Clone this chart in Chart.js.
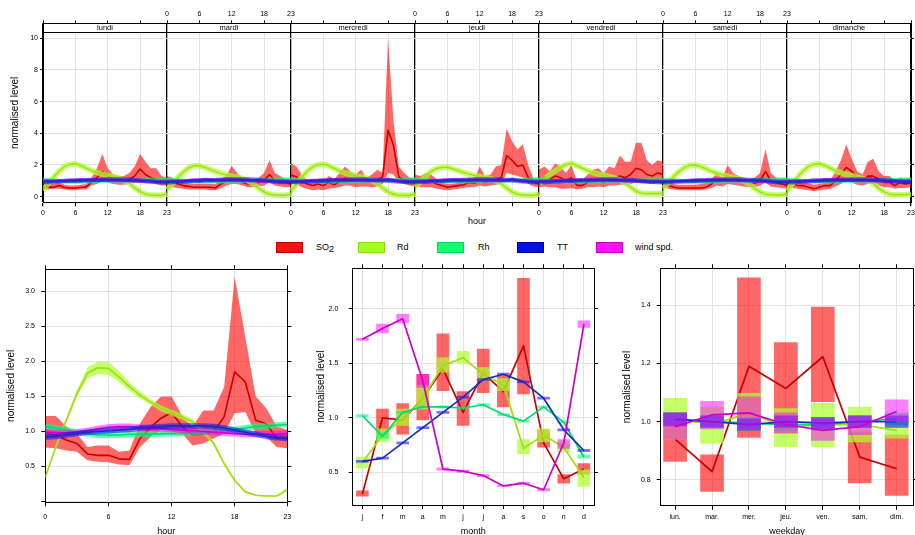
<!DOCTYPE html>
<html>
<head>
<meta charset="utf-8">
<script src="https://cdn.jsdelivr.net/npm/chart.js@4.4.1/dist/chart.umd.min.js"></script>
<style>
html,body{margin:0;padding:0;background:#fff;width:915px;height:535px;overflow:hidden;position:relative;font-family:"Liberation Sans",Arial,sans-serif;}
canvas{position:absolute;}
.bx{position:absolute;top:242px;width:27px;height:11px;box-sizing:border-box;border:1px solid;}
.lt{position:absolute;top:241px;font-size:9px;line-height:12px;color:#000;white-space:nowrap;}
.lt sub{font-size:9px;vertical-align:baseline;position:relative;top:2px;}
</style>
</head>
<body>
<canvas id="cTop" width="915" height="228" style="left:0;top:0"></canvas>
<canvas id="cHour" width="305" height="282" style="left:0;top:258px"></canvas>
<canvas id="cMonth" width="305" height="282" style="left:305px;top:258px"></canvas>
<canvas id="cWeek" width="305" height="282" style="left:610px;top:258px"></canvas>

<div class="bx" style="left:276px;background:#ff1010;border-color:#c00000"></div><div class="lt" style="left:316px">SO<sub>2</sub></div>
<div class="bx" style="left:358px;background:#a4ff22;border-color:#88dd10"></div><div class="lt" style="left:397px">Rd</div>
<div class="bx" style="left:437px;background:#10ff70;border-color:#00d860"></div><div class="lt" style="left:478px">Rh</div>
<div class="bx" style="left:517px;background:#0010e8;border-color:#0000a0"></div><div class="lt" style="left:557px">TT</div>
<div class="bx" style="left:596px;background:#ff10ff;border-color:#c000c0"></div><div class="lt" style="left:635px">wind spd.</div>

<script>
// ---------------- DATA ----------------
const dayNames = ['lundi','mardi','mercredi','jeudi','vendredi','samedi','dimanche'];
const hourTicks = [0, 6, 12, 18, 23];
const topYTicks = [0, 2, 4, 6, 8, 10];

// day x hour panels (rows = days lundi..dimanche, 24 hours each)
const so2DayMean = [
 [0.60,0.62,0.60,0.70,0.58,0.55,0.55,0.58,0.62,0.90,1.20,1.60,1.30,1.10,1.00,1.00,1.10,1.30,1.75,1.40,1.20,1.10,0.90,0.90],
 [1.00,0.90,0.80,0.70,0.65,0.60,0.60,0.60,0.60,0.55,0.80,1.00,1.20,1.10,0.90,0.80,0.80,0.90,1.00,1.40,1.00,0.90,0.90,0.80],
 [1.36,1.25,1.05,0.80,0.70,0.80,0.70,0.90,0.75,0.94,1.15,1.04,0.94,1.04,0.94,0.94,1.04,1.25,4.20,3.26,1.25,1.04,0.94,0.94],
 [1.00,0.90,0.95,1.00,0.80,0.70,0.60,0.65,0.70,0.75,0.90,0.85,1.00,0.90,1.00,1.10,1.20,2.60,2.30,1.90,2.00,1.20,0.90,0.80],
 [1.00,1.25,1.10,1.30,1.20,1.00,1.20,0.73,0.70,0.90,1.00,1.00,0.90,1.10,1.20,1.30,1.20,1.40,1.80,1.70,1.40,1.30,1.50,1.40],
 [0.90,0.70,0.60,0.55,0.55,0.55,0.55,0.55,0.60,0.80,1.10,1.00,1.30,1.10,1.00,0.90,0.80,0.85,1.00,1.60,1.00,0.90,0.80,0.70],
 [0.90,0.80,0.70,0.70,0.60,0.50,0.60,0.70,0.70,1.00,1.40,1.85,1.60,1.20,1.00,1.30,1.30,1.10,0.90,0.90,0.70,0.90,0.80,0.90]
];
const so2DayLow = [
 [0.45,0.45,0.50,0.50,0.45,0.40,0.40,0.45,0.45,0.70,0.80,1.00,0.90,0.80,0.75,0.75,0.80,0.90,1.10,1.00,0.90,0.80,0.70,0.70],
 [0.70,0.60,0.55,0.50,0.45,0.45,0.45,0.45,0.40,0.40,0.55,0.70,0.80,0.80,0.70,0.60,0.60,0.65,0.70,0.90,0.70,0.65,0.60,0.60],
 [0.80,0.80,0.60,0.50,0.40,0.45,0.40,0.50,0.55,0.60,0.70,0.70,0.60,0.65,0.65,0.60,0.65,0.80,1.50,1.40,0.90,0.80,0.70,0.65],
 [0.70,0.60,0.60,0.60,0.50,0.45,0.40,0.45,0.50,0.55,0.60,0.60,0.70,0.65,0.70,0.75,0.80,1.50,1.40,1.30,1.20,0.80,0.65,0.60],
 [0.60,0.65,0.60,0.60,0.50,0.50,0.55,0.45,0.50,0.60,0.60,0.65,0.60,0.70,0.70,0.75,0.75,0.80,0.90,0.90,0.85,0.80,0.85,0.80],
 [0.60,0.50,0.45,0.40,0.40,0.40,0.40,0.40,0.45,0.55,0.70,0.65,0.80,0.75,0.70,0.65,0.60,0.60,0.70,0.90,0.65,0.60,0.55,0.50],
 [0.60,0.55,0.50,0.45,0.40,0.35,0.40,0.45,0.50,0.65,0.80,1.00,0.90,0.75,0.70,0.80,0.80,0.70,0.60,0.60,0.50,0.55,0.55,0.60]
];
const so2DayHigh = [
 [0.90,0.80,0.80,0.90,0.75,0.70,0.70,0.75,0.80,1.20,1.80,2.70,1.80,1.40,1.30,1.30,1.50,1.90,2.70,2.20,1.80,1.80,1.30,1.20],
 [1.30,1.20,1.00,0.90,0.85,0.80,0.80,0.80,0.80,0.80,1.10,1.30,1.95,1.50,1.20,1.10,1.00,1.20,1.50,2.30,1.50,1.30,1.10,1.00],
 [2.10,1.90,1.40,1.00,0.90,1.00,0.95,1.30,1.10,1.50,1.90,1.60,1.40,1.70,1.20,1.40,1.70,1.50,10.0,4.80,1.90,1.50,1.20,1.10],
 [1.40,1.30,1.50,1.40,1.10,0.90,0.80,0.80,0.90,1.00,1.20,1.10,1.90,1.30,1.40,1.90,2.00,4.30,3.50,3.00,3.30,2.00,1.10,1.00],
 [1.70,1.90,1.60,2.10,1.90,1.50,2.00,1.00,1.00,1.40,1.70,1.80,1.50,1.90,1.80,2.60,2.20,2.20,3.40,3.40,2.30,2.00,2.30,2.20],
 [1.20,1.00,0.80,0.75,0.75,0.75,0.75,0.80,0.90,1.10,1.50,1.20,2.00,1.50,1.30,1.20,1.10,1.20,1.50,3.00,1.50,1.20,1.10,1.00],
 [1.20,1.00,1.00,0.95,0.85,0.75,0.80,0.90,1.00,1.60,2.30,3.30,2.40,1.60,1.40,2.20,2.40,1.60,1.30,1.30,1.00,1.20,1.10,1.20]
];
const rdDayMean = [
 [0.40,0.85,1.25,1.62,1.90,2.05,2.08,1.96,1.80,1.64,1.52,1.42,1.34,1.27,1.18,1.03,0.85,0.56,0.32,0.16,0.10,0.09,0.09,0.18],
 [0.45,0.82,1.20,1.55,1.82,1.95,1.95,1.85,1.72,1.58,1.47,1.38,1.30,1.23,1.15,1.00,0.82,0.54,0.30,0.15,0.10,0.09,0.09,0.16],
 [0.35,0.80,1.22,1.60,1.88,2.02,2.05,1.94,1.78,1.62,1.50,1.40,1.32,1.25,1.17,1.02,0.84,0.55,0.30,0.15,0.10,0.09,0.09,0.17],
 [0.60,0.95,1.30,1.58,1.78,1.85,1.85,1.76,1.64,1.52,1.42,1.34,1.28,1.22,1.14,1.00,0.82,0.54,0.30,0.15,0.10,0.09,0.09,0.16],
 [0.85,1.10,1.40,1.62,1.85,2.02,2.10,1.96,1.80,1.64,1.52,1.42,1.36,1.28,1.18,1.05,0.86,0.60,0.35,0.22,0.20,0.20,0.20,0.22],
 [0.50,0.90,1.28,1.60,1.85,1.98,2.00,1.90,1.75,1.60,1.48,1.38,1.30,1.22,1.12,0.98,0.80,0.52,0.30,0.16,0.12,0.11,0.11,0.16],
 [0.35,0.82,1.25,1.62,1.90,2.05,2.08,1.96,1.80,1.64,1.50,1.40,1.32,1.24,1.15,1.00,0.82,0.54,0.30,0.16,0.12,0.12,0.12,0.18]
];
const rhDayMean = [
 [1.07,1.05,1.02,0.99,0.97,0.95,0.95,0.95,0.96,0.96,0.96,0.97,0.97,0.97,0.98,0.99,1.00,1.01,1.03,1.05,1.07,1.08,1.09,1.10],
 [1.08,1.06,1.03,1.00,0.97,0.95,0.94,0.95,0.95,0.96,0.96,0.96,0.97,0.97,0.98,0.99,1.00,1.02,1.04,1.06,1.07,1.08,1.09,1.09],
 [1.07,1.05,1.02,0.99,0.97,0.96,0.95,0.95,0.96,0.96,0.97,0.97,0.97,0.98,0.98,0.99,1.00,1.01,1.03,1.05,1.06,1.08,1.09,1.10],
 [1.08,1.06,1.03,1.00,0.98,0.96,0.95,0.95,0.95,0.96,0.96,0.97,0.97,0.97,0.98,0.99,1.00,1.01,1.03,1.05,1.07,1.08,1.10,1.10],
 [1.07,1.05,1.02,0.99,0.97,0.95,0.95,0.95,0.96,0.96,0.96,0.97,0.97,0.98,0.98,0.99,1.00,1.01,1.03,1.04,1.06,1.07,1.08,1.09],
 [1.08,1.06,1.03,1.00,0.97,0.95,0.94,0.94,0.95,0.96,0.96,0.97,0.97,0.97,0.98,0.99,1.00,1.02,1.04,1.06,1.07,1.09,1.10,1.10],
 [1.07,1.05,1.02,0.99,0.97,0.96,0.95,0.95,0.96,0.96,0.97,0.97,0.97,0.98,0.98,0.99,1.00,1.01,1.03,1.05,1.07,1.08,1.09,1.10]
];
const ttDayMean = [
 [0.92,0.93,0.95,0.97,0.99,1.00,1.01,1.02,1.03,1.05,1.06,1.07,1.08,1.08,1.08,1.08,1.07,1.05,1.02,0.99,0.96,0.93,0.91,0.90],
 [0.91,0.92,0.94,0.96,0.98,1.00,1.01,1.03,1.04,1.05,1.07,1.08,1.08,1.09,1.09,1.08,1.07,1.05,1.02,0.99,0.96,0.94,0.92,0.91],
 [0.92,0.93,0.94,0.96,0.98,0.99,1.01,1.02,1.04,1.05,1.06,1.07,1.08,1.08,1.08,1.07,1.06,1.04,1.02,0.99,0.96,0.94,0.92,0.91],
 [0.93,0.94,0.95,0.97,0.99,1.00,1.02,1.03,1.04,1.06,1.07,1.08,1.09,1.09,1.09,1.08,1.07,1.05,1.03,1.00,0.97,0.94,0.92,0.91],
 [0.92,0.93,0.95,0.97,0.98,1.00,1.01,1.02,1.04,1.05,1.06,1.07,1.08,1.08,1.08,1.07,1.06,1.05,1.02,0.99,0.96,0.94,0.92,0.91],
 [0.91,0.92,0.94,0.96,0.98,0.99,1.01,1.02,1.03,1.05,1.06,1.07,1.07,1.08,1.08,1.07,1.06,1.04,1.02,0.99,0.96,0.93,0.91,0.90],
 [0.91,0.92,0.94,0.96,0.98,1.00,1.01,1.03,1.04,1.05,1.06,1.07,1.08,1.08,1.08,1.08,1.07,1.05,1.03,1.00,0.97,0.95,0.93,0.92]
];
const wsDayMean = [
 [0.99,0.98,0.98,0.99,1.01,1.04,1.06,1.07,1.07,1.06,1.05,1.04,1.03,1.02,1.01,1.00,0.99,0.98,0.97,0.96,0.96,0.96,0.96,0.97],
 [0.98,0.97,0.97,0.99,1.02,1.05,1.07,1.08,1.07,1.06,1.05,1.04,1.03,1.02,1.01,1.00,0.99,0.98,0.98,0.97,0.96,0.96,0.96,0.97],
 [0.99,0.98,0.98,1.00,1.02,1.04,1.06,1.07,1.06,1.05,1.04,1.03,1.03,1.02,1.01,1.00,1.00,1.02,1.12,1.04,0.98,0.97,0.96,0.97],
 [0.98,0.98,0.97,0.99,1.01,1.04,1.06,1.07,1.07,1.06,1.05,1.04,1.03,1.02,1.01,1.00,1.00,1.03,1.12,1.04,0.98,0.97,0.96,0.96],
 [0.99,0.98,0.98,0.99,1.01,1.03,1.05,1.06,1.06,1.05,1.05,1.04,1.03,1.02,1.01,1.00,0.99,0.98,0.97,0.96,0.96,0.96,0.97,0.97],
 [0.98,0.98,0.97,0.98,1.00,1.03,1.05,1.06,1.06,1.06,1.05,1.04,1.03,1.02,1.01,1.00,0.99,0.98,0.97,0.96,0.96,0.95,0.96,0.96],
 [0.99,0.98,0.98,0.99,1.01,1.04,1.06,1.07,1.07,1.06,1.05,1.04,1.03,1.02,1.01,1.00,0.99,0.98,0.97,0.96,0.96,0.96,0.96,0.97]
];

// hour of day panel
const hours = [0,1,2,3,4,5,6,7,8,9,10,11,12,13,14,15,16,17,18,19,20,21,22,23];
const hourYTicks = [0, 0.5, 1.0, 1.5, 2.0, 2.5, 3.0];
const so2HourMean = [0.97,0.95,0.88,0.83,0.68,0.66,0.66,0.61,0.60,0.90,1.06,1.19,1.27,1.07,0.95,0.96,1.00,1.21,1.85,1.71,1.16,1.11,0.90,0.90];
const so2HourLow  = [0.77,0.76,0.73,0.71,0.59,0.57,0.56,0.53,0.52,0.78,0.92,1.02,1.00,0.97,0.80,0.83,0.90,0.97,1.26,1.28,0.97,0.92,0.78,0.76];
const so2HourHigh = [1.22,1.22,1.07,0.97,0.78,0.80,0.80,0.71,0.73,1.11,1.35,1.50,1.50,1.23,1.07,1.30,1.30,1.64,3.21,2.35,1.50,1.33,1.07,1.02];
const rdHourMean = [0.35,0.78,1.16,1.54,1.83,1.91,1.90,1.78,1.64,1.52,1.42,1.33,1.27,1.21,1.14,1.00,0.83,0.54,0.30,0.14,0.09,0.08,0.08,0.17];
const rdHourLow  = [0.33,0.75,1.12,1.49,1.76,1.82,1.81,1.71,1.58,1.47,1.38,1.29,1.23,1.17,1.10,0.97,0.80,0.51,0.28,0.12,0.08,0.07,0.07,0.15];
const rdHourHigh = [0.37,0.81,1.20,1.59,1.91,2.00,1.99,1.86,1.70,1.57,1.46,1.37,1.31,1.25,1.18,1.03,0.86,0.57,0.32,0.16,0.10,0.09,0.09,0.19];
const rhHourMean = [1.07,1.05,1.02,0.99,0.97,0.95,0.95,0.95,0.96,0.96,0.96,0.97,0.97,0.97,0.98,0.99,1.00,1.01,1.03,1.05,1.07,1.08,1.09,1.10];
const ttHourMean = [0.92,0.93,0.95,0.97,0.99,1.00,1.01,1.02,1.03,1.05,1.06,1.07,1.08,1.08,1.08,1.08,1.07,1.05,1.02,0.99,0.96,0.93,0.91,0.90];
const wsHourMean = [0.99,0.98,0.98,0.99,1.01,1.04,1.06,1.07,1.07,1.06,1.05,1.04,1.03,1.02,1.01,1.00,0.99,0.98,0.97,0.96,0.96,0.96,0.96,0.97];

// month panel
const monthLabels = ['j','f','m','a','m','j','j','a','s','o','n','d'];
const monthYTicks = [0.5, 1.0, 1.5, 2.0];
const so2MonthMean = [0.30,1.00,0.98,1.18,1.45,1.05,1.41,1.24,1.66,0.77,0.44,0.53];
const so2MonthLow  = [0.28,0.85,0.85,0.98,1.25,0.93,1.23,1.10,1.22,0.73,0.40,0.48];
const so2MonthHigh = [0.33,1.08,1.13,1.40,1.77,1.24,1.63,1.38,2.28,0.89,0.48,0.58];
const rdMonthMean = [0.59,0.84,0.99,1.18,1.48,1.55,1.40,1.30,0.72,0.84,0.73,0.45];
const rdMonthLow  = [0.54,0.78,0.93,1.08,1.42,1.50,1.34,1.25,0.67,0.78,0.69,0.37];
const rdMonthHigh = [0.64,0.90,1.08,1.30,1.55,1.61,1.46,1.36,0.80,0.90,0.78,0.52];
const rhMonthMean = [1.02,0.83,1.05,1.10,1.10,1.09,1.12,1.03,0.97,1.10,0.96,0.64];
const rhMonthLow  = [1.01,0.81,1.04,1.09,1.09,1.08,1.11,1.02,0.96,1.09,0.95,0.63];
const rhMonthHigh = [1.03,0.86,1.06,1.11,1.11,1.10,1.13,1.04,0.98,1.11,0.97,0.66];
const ttMonthMean = [0.60,0.63,0.77,0.91,1.05,1.19,1.35,1.40,1.33,1.18,0.89,0.70];
const ttMonthLow  = [0.59,0.62,0.76,0.90,1.04,1.18,1.34,1.39,1.32,1.17,0.88,0.69];
const ttMonthHigh = [0.61,0.64,0.78,0.92,1.06,1.20,1.36,1.41,1.34,1.19,0.90,0.71];
const wsMonthMean = [1.72,1.82,1.91,1.34,0.53,0.51,0.47,0.375,0.40,0.34,0.77,1.86];
const wsMonthLow  = [1.71,1.78,1.87,1.28,0.52,0.50,0.46,0.37,0.39,0.33,0.72,1.83];
const wsMonthHigh = [1.73,1.86,1.95,1.40,0.54,0.52,0.48,0.38,0.41,0.35,0.80,1.89];

// weekday panel
const weekdayLabels = ['lun.','mar.','mer.','jeu.','ven.','sam.','dim.'];
const weekYTicks = [0.8, 1.0, 1.2, 1.4];
const so2WeekMean = [0.94,0.828,1.19,1.114,1.223,0.878,0.838];
const so2WeekLow  = [0.863,0.76,0.946,0.96,1.069,0.789,0.746];
const so2WeekHigh = [1.03,0.886,1.494,1.272,1.394,0.965,0.955];
const rdWeekMean = [1.01,0.99,1.03,0.98,0.99,0.99,0.97];
const rdWeekLow  = [0.94,0.925,0.97,0.914,0.914,0.93,0.943];
const rdWeekHigh = [1.08,1.05,1.097,1.045,1.063,1.05,1.0];
const rhWeekMean = [1.01,1.00,0.995,0.99,0.99,1.00,1.01];
const rhWeekLow  = [0.99,0.98,0.975,0.97,0.97,0.98,0.99];
const rhWeekHigh = [1.03,1.02,1.015,1.01,1.01,1.02,1.03];
const ttWeekMean = [1.008,1.0,0.99,1.0,0.995,1.0,1.0];
const ttWeekLow  = [0.985,0.98,0.97,0.98,0.975,0.98,0.98];
const ttWeekHigh = [1.03,1.02,1.01,1.02,1.015,1.02,1.02];
const wsWeekMean = [0.983,1.023,1.03,0.99,0.97,0.983,1.035];
const wsWeekLow  = [0.94,0.975,0.975,0.96,0.935,0.955,1.0];
const wsWeekHigh = [1.03,1.07,1.085,1.03,1.01,1.02,1.075];

// ---------------- STYLE ----------------
Chart.defaults.font.family = "'Liberation Sans', Arial, sans-serif";
Chart.defaults.color = '#000';
const GRID = '#e2e2e2';
const COL = {
  so2: {band:'rgba(255,0,0,0.6)',    line:'#c80000'},
  rd:  {band:'rgba(173,255,47,0.72)', line:'#a2dc18'},
  rh:  {band:'rgba(0,255,127,0.6)',  line:'#00d977'},
  tt:  {band:'rgba(20,20,255,0.6)',  line:'#1a2db5'},
  ws:  {band:'rgba(255,0,255,0.5)',  line:'#cc00cc'}
};
const PANEL = hourTicks[hourTicks.length-1]; // each day panel spans hours 0..23

function lineDs(data, o) {
  return Object.assign({type:'line', data, pointRadius:0, pointHoverRadius:0, tension:0, fill:false,
    borderColor:'rgba(0,0,0,0)', borderWidth:1, borderJoinStyle:'round'}, o);
}
function barDs(data, color, thick) {
  return {type:'bar', data, backgroundColor:color, borderWidth:0, barThickness:thick, grouped:false};
}
function layer(list) { const n = list.length; list.forEach((d,i)=>{ d.order = n - i; }); return list; }
const ticksFrom = arr => s => { s.ticks = arr.map(v => ({value:v})); };
const fixBox = (prop, val) => s => { s[prop] = val; s.paddingLeft = 0; s.paddingRight = 0; s.paddingTop = 0; s.paddingBottom = 0; };

// ---------------- TOP: day x hour ----------------
const topTickVals = [];
dayNames.forEach((_, d) => hourTicks.slice(0, -1).forEach(h => topTickVals.push(d*PANEL + h)));
topTickVals.push(dayNames.length*PANEL);

function panelLabel(v, parity) {
  const d = Math.floor(v / PANEL), h = v - d*PANEL, c = [];
  if (d < dayNames.length) c.push([d, h]);
  if (h === 0 && d > 0) c.push([d-1, PANEL]);
  for (const [dd, hh] of c) if (dd % 2 === parity) return String(hh);
  return '';
}
const dayPts = (d, arr) => arr.map((v, h) => ({x: d*PANEL + h, y: v}));

const topSets = [];
dayNames.forEach((_, d) => {
  topSets.push(lineDs(dayPts(d, so2DayLow[d]), {borderWidth:0}));
  topSets.push(lineDs(dayPts(d, so2DayHigh[d]), {borderWidth:0, fill:'-1', backgroundColor:COL.so2.band}));
  topSets.push(lineDs(dayPts(d, so2DayMean[d]), {borderWidth:1.6, borderColor:COL.so2.line}));
});
[['rd', rdDayMean, 5.5], ['rh', rhDayMean, 4], ['ws', wsDayMean, 3.5], ['tt', ttDayMean, 4.5]].forEach(([k, arr, w]) => {
  dayNames.forEach((_, d) => {
    topSets.push(lineDs(dayPts(d, arr[d]), {borderWidth:w, borderColor:COL[k].band}));
    topSets.push(lineDs(dayPts(d, arr[d]), {borderWidth:1.4, borderColor:COL[k].line}));
  });
});
layer(topSets);

const stripPlugin = {
  id: 'dayStrip',
  afterDatasetsDraw(chart) {
    const {ctx, chartArea} = chart, x = chart.scales.x, top = chartArea.top, h = 9;
    ctx.save();
    dayNames.forEach((name, d) => {
      const x0 = x.getPixelForValue(d*PANEL), x1 = x.getPixelForValue((d+1)*PANEL);
      ctx.fillStyle = '#fff';
      ctx.fillRect(x0 + 1, top + 1, x1 - x0 - 2, h - 1);
      ctx.fillStyle = '#000';
      ctx.font = "7.5px 'Liberation Sans', Arial, sans-serif";
      ctx.textAlign = 'center'; ctx.textBaseline = 'middle';
      ctx.fillText(name, (x0 + x1)/2, top + h/2 + 0.5);
    });
    ctx.strokeStyle = '#000'; ctx.lineWidth = 1;
    ctx.beginPath(); ctx.moveTo(chartArea.left, Math.round(top + h) + 0.5); ctx.lineTo(chartArea.right, Math.round(top + h) + 0.5); ctx.stroke();
    ctx.restore();
  }
};

new Chart(document.getElementById('cTop'), {
  type: 'line',
  data: {datasets: topSets},
  plugins: [stripPlugin],
  options: {
    responsive:false, animation:false, devicePixelRatio:1, events:[],
    layout:{padding:0},
    plugins:{legend:{display:false}, tooltip:{enabled:false}},
    scales: {
      x: {type:'linear', position:'bottom', min:0, max:dayNames.length*PANEL,
        afterBuildTicks: ticksFrom(topTickVals),
        ticks:{autoSkip:false, maxRotation:0, font:{size:7}, padding:2.6, callback:v => panelLabel(v, 0)},
        grid:{color:c => (c.tick && c.tick.value % PANEL === 0) ? '#000' : GRID,
              lineWidth:c => (c.tick && c.tick.value % PANEL === 0) ? 1.3 : 1,
              tickColor:'#000', tickLength:4},
        border:{color:'#000', width:1},
        title:{display:true, text:'hour', font:{size:9}, padding:{top:0, bottom:1.4}},
        afterFit: fixBox('height', 25.7)},
      xTop: {type:'linear', position:'top', min:0, max:dayNames.length*PANEL,
        afterBuildTicks: ticksFrom(topTickVals),
        ticks:{autoSkip:false, maxRotation:0, font:{size:7}, padding:1.8, callback:v => panelLabel(v, 1)},
        grid:{drawOnChartArea:false, tickColor:'#000', tickLength:3},
        border:{color:'#000', width:1},
        afterFit: fixBox('height', 23.3)},
      y: {type:'linear', position:'left', min:-0.354, max:10.94,
        afterBuildTicks: ticksFrom(topYTicks),
        ticks:{font:{size:7}, padding:2, callback:v => String(v)},
        grid:{color:GRID, tickColor:'#000', tickLength:3},
        border:{color:'#000', width:1},
        title:{display:true, text:'normalised level', font:{size:10}, padding:{top:9.5, bottom:0}},
        afterFit: fixBox('width', 43)},
      y2: {type:'linear', position:'right', min:-0.354, max:10.94,
        afterBuildTicks: ticksFrom(topYTicks),
        ticks:{display:false},
        grid:{drawOnChartArea:false, tickColor:'#000', tickLength:3},
        border:{color:'#000', width:1},
        afterFit: fixBox('width', 4)}
    }
  }
});

// ---------------- bottom panels ----------------
function panelChart(id, c) {
  return new Chart(document.getElementById(id), {
    type:'line',
    data:{datasets:c.datasets},
    options:{
      responsive:false, animation:false, devicePixelRatio:1, events:[],
      layout:{padding:0},
      plugins:{legend:{display:false}, tooltip:{enabled:false}},
      scales:{
        x:{type:'linear', position:'bottom', min:c.xMin, max:c.xMax, offset:false,
          afterBuildTicks: ticksFrom(c.xTicks),
          ticks:{autoSkip:false, maxRotation:0, font:{size:7}, padding:c.xPad, callback:c.xLabel},
          grid:{color:GRID, tickColor:'#000', tickLength:4, offset:false},
          border:{color:'#000', width:1},
          title:{display:true, text:c.xTitle, font:{size:9}, padding:{top:0, bottom:2.9}},
          afterFit: fixBox('height', c.fit[3])},
        xTop:{type:'linear', position:'top', min:c.xMin, max:c.xMax, offset:false,
          afterBuildTicks: ticksFrom(c.xTicks),
          ticks:{display:false},
          grid:{drawOnChartArea:false, tickColor:'#000', tickLength:4, offset:false},
          border:{color:'#000', width:1},
          afterFit: fixBox('height', c.fit[1])},
        y:{type:'linear', position:'left', min:c.yMin, max:c.yMax,
          afterBuildTicks: ticksFrom(c.yTicks),
          ticks:{font:{size:7}, padding:c.yPad, callback:v => v === 0 ? '' : v.toFixed(1)},
          grid:{color:GRID, tickColor:'#000', tickLength:4},
          border:{color:'#000', width:1},
          title:{display:true, text:'normalised level', font:{size:10}, padding:{top:c.yTitlePad, bottom:0}},
          afterFit: fixBox('width', c.fit[0])},
        y2:{type:'linear', position:'right', min:c.yMin, max:c.yMax,
          afterBuildTicks: ticksFrom(c.yTicks),
          ticks:{display:false},
          grid:{drawOnChartArea:false, tickColor:'#000', tickLength:4},
          border:{color:'#000', width:1},
          afterFit: fixBox('width', c.fit[2])}
      }
    }
  });
}

// hour panel datasets
const hp = arr => arr.map((v, i) => ({x: hours[i], y: v}));
const hourSets = layer([
  lineDs(hp(so2HourLow), {borderWidth:0}),
  lineDs(hp(so2HourHigh), {borderWidth:0, fill:'-1', backgroundColor:COL.so2.band}),
  lineDs(hp(so2HourMean), {borderWidth:1.6, borderColor:COL.so2.line}),
  lineDs(hp(rdHourLow), {borderWidth:0}),
  lineDs(hp(rdHourHigh), {borderWidth:0, fill:'-1', backgroundColor:COL.rd.band}),
  lineDs(hp(rdHourMean), {borderWidth:1.6, borderColor:COL.rd.line}),
  lineDs(hp(rhHourMean), {borderWidth:6, borderColor:COL.rh.band}),
  lineDs(hp(rhHourMean), {borderWidth:1.6, borderColor:COL.rh.line}),
  lineDs(hp(wsHourMean), {borderWidth:6, borderColor:COL.ws.band}),
  lineDs(hp(wsHourMean), {borderWidth:1.6, borderColor:COL.ws.line}),
  lineDs(hp(ttHourMean), {borderWidth:5.5, borderColor:COL.tt.band}),
  lineDs(hp(ttHourMean), {borderWidth:1.6, borderColor:COL.tt.line})
]);
panelChart('cHour', {
  datasets:hourSets, xMin:0, xMax:hours[hours.length-1], xTicks:hourTicks, xLabel:v => String(v), xTitle:'hour', xPad:6.8,
  yMin:-0.01, yMax:3.314, yTicks:hourYTicks, yPad:6.3, yTitlePad:5.5, fit:[45.3, 11.3, 17.7, 37.7]
});

// month / weekday: boxes + lines
function boxSets(low, high, mean, thick) {
  const out = [];
  ['so2', 'rd', 'rh', 'tt', 'ws'].forEach((k, s) => {
    out.push(barDs(low[s].map((lo, i) => ({x:i, y:[lo, high[s][i]]})), COL[k].band, thick));
    out.push(lineDs(mean[s].map((v, i) => ({x:i, y:v})), {borderWidth:1.7, borderColor:COL[k].line}));
  });
  return layer(out);
}
const monthIdx = monthLabels.map((_, i) => i);
panelChart('cMonth', {
  datasets: boxSets(
    [so2MonthLow, rdMonthLow, rhMonthLow, ttMonthLow, wsMonthLow],
    [so2MonthHigh, rdMonthHigh, rhMonthHigh, ttMonthHigh, wsMonthHigh],
    [so2MonthMean, rdMonthMean, rhMonthMean, ttMonthMean, wsMonthMean], 12),
  xMin:-0.48, xMax:11.5, xTicks:monthIdx, xLabel:v => monthLabels[v] || '', xTitle:'month', xPad:4.1,
  yMin:0.20, yMax:2.372, yTicks:monthYTicks, yPad:10.4, yTitlePad:10, fit:[47.7, 10.3, 16, 35]
});

const weekIdx = weekdayLabels.map((_, i) => i);
panelChart('cWeek', {
  datasets: boxSets(
    [so2WeekLow, rdWeekLow, rhWeekLow, ttWeekLow, wsWeekLow],
    [so2WeekHigh, rdWeekHigh, rhWeekHigh, ttWeekHigh, wsWeekHigh],
    [so2WeekMean, rdWeekMean, rhWeekMean, ttWeekMean, wsWeekMean], 23),
  xMin:-0.39, xMax:6.45, xTicks:weekIdx, xLabel:v => weekdayLabels[v] || '', xTitle:'weekday', xPad:3.4,
  yMin:0.711, yMax:1.527, yTicks:weekYTicks, yPad:6, yTitlePad:11.5, fit:[50.7, 10.3, 1.7, 34.3]
});
</script>
</body>
</html>
